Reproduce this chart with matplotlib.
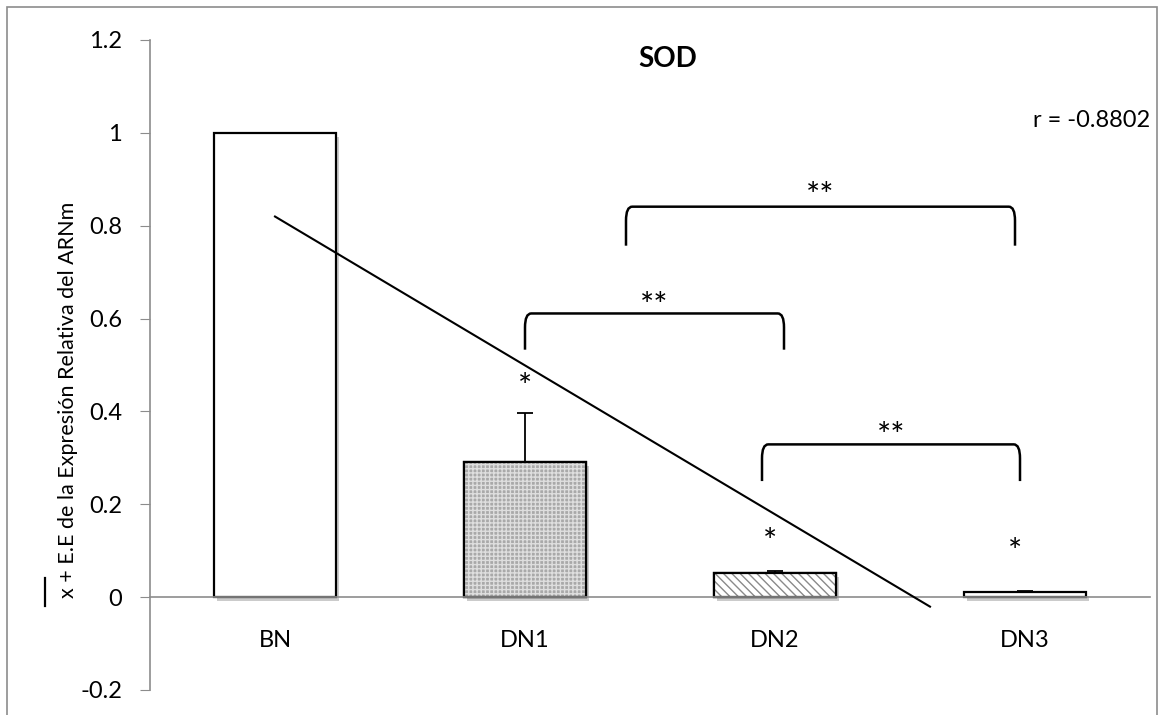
import numpy as np
import matplotlib
matplotlib.use("Agg")
import matplotlib.pyplot as plt
from matplotlib.path import Path
from matplotlib.patches import PathPatch, Rectangle
from matplotlib.lines import Line2D
import matplotlib.patheffects as pe
from matplotlib.transforms import offset_copy

# ---- data ----
categories = ["BN", "DN1", "DN2", "DN3"]
values = [1.0, 0.292, 0.052, 0.011]
errors = [0.0, 0.104, 0.005, 0.003]
y_ticks = [-0.2, 0, 0.2, 0.4, 0.6, 0.8, 1, 1.2]
y_tick_labels = ["-0.2", "0", "0.2", "0.4", "0.6", "0.8", "1", "1.2"]
r_text = "r = -0.8802"
title = "SOD"
ylabel = "x + E.E de la Expresión Relativa del ARNm"
# significance marks: (x, y, text)
single_marks = [(1.0, 0.465, "*"), (1.98, 0.131, "*"), (2.96, 0.110, "*")]
# brackets: (x_left, x_right, y_top, y_leg_bottom, label_y)
brackets = [(1.0, 2.036, 0.611, 0.533, 0.640),
            (1.948, 2.98, 0.329, 0.250, 0.360),
            (1.404, 2.96, 0.841, 0.757, 0.878)]
trend_end = 2.62

plt.rcParams['font.family'] = ['Lato', 'DejaVu Sans']
plt.rcParams['hatch.linewidth'] = 1.0

fig = plt.figure(figsize=(11.65, 7.15), dpi=100)
ax = fig.add_axes([150/1165, 1-690/715, 1000/1165, 650/715])

x = np.arange(len(categories))
w = 0.49
shadow = [pe.SimplePatchShadow(offset=(2, -3), shadow_rgbFace='#999999', alpha=0.5), pe.Normal()]

faces = ['white', '#a9a9a9', 'white', 'white']
hatches = [None, '++++', '\\\\\\\\', None]
hcolors = ['white', '#dedede', '#8a8a8a', 'white']
for i in range(len(categories)):
    ax.bar(x[i], values[i], width=w, color=faces[i], edgecolor='black', linewidth=1.6,
           zorder=2, path_effects=shadow)
    if hatches[i]:
        ax.bar(x[i], values[i], width=w, color=faces[i], edgecolor=hcolors[i],
               hatch=hatches[i], linewidth=0, zorder=2.1)
        ax.bar(x[i], values[i], width=w, fill=False, edgecolor='black', linewidth=1.6, zorder=2.2)

mask = np.array(errors) > 0
ax.errorbar(x[mask], np.array(values)[mask],
            yerr=[np.zeros(mask.sum()), np.array(errors)[mask]],
            fmt='none', ecolor='black', elinewidth=1.3, capsize=6, capthick=1.3, zorder=3)

# trend line
coef = np.polyfit(x, values, 1)
xt = np.array([0, trend_end])
ax.plot(xt, np.polyval(coef, xt), color='black', lw=1.5, zorder=4)

# asterisks placed by ink centre (baseline shifted down)
star_tr = offset_copy(ax.transData, fig=fig, x=0, y=-16, units='dots')

r_y = 0.03
r_x = 0.025
for (x1, x2, yt, yb, ly) in brackets:
    verts = [(x1, yb), (x1, yt - r_y), (x1, yt), (x1 + r_x, yt), (x2 - r_x, yt),
             (x2, yt), (x2, yt - r_y), (x2, yb)]
    codes = [Path.MOVETO, Path.LINETO, Path.CURVE3, Path.CURVE3, Path.LINETO,
             Path.CURVE3, Path.CURVE3, Path.LINETO]
    ax.add_patch(PathPatch(Path(verts, codes), fill=False, edgecolor='black', lw=1.8, zorder=4))
    ax.text((x1 + x2) / 2, ly, "**", ha='center', va='baseline', fontsize=24, transform=star_tr)

for (mx, my, t) in single_marks:
    ax.text(mx, my, t, ha='center', va='baseline', fontsize=24, transform=star_tr)

ax.set_xlim(-0.5, 3.5)
ax.set_ylim(-0.2, 1.2)
ax.set_yticks(y_ticks)
ax.set_yticklabels(y_tick_labels, fontsize=17)
ax.set_xticks([])
for i, c in enumerate(categories):
    ax.text(x[i], -0.1075, c, ha='center', va='baseline', fontsize=17)

for s in ['top', 'right']:
    ax.spines[s].set_visible(False)
ax.spines['bottom'].set_position(('data', 0))
ax.spines['bottom'].set_color('#8c8c8c')
ax.spines['left'].set_color('#8c8c8c')
ax.spines['bottom'].set_linewidth(1.2)
ax.spines['left'].set_linewidth(1.2)
ax.tick_params(axis='y', direction='out', length=7, color='#8c8c8c', pad=13)

ax.text(1.57, 1.159, title, ha='center', va='center', fontsize=20, fontweight='bold')
ax.text(3.5, 1.012, r_text, ha='right', va='baseline', fontsize=17)

ax.set_ylabel(ylabel, fontsize=15.5)
ax.yaxis.set_label_coords(-0.072, 0.446)

fig.patches.append(Rectangle((7/1165, -0.05), 1150/1165, 1.05 - 7/715, transform=fig.transFigure,
                             fill=False, edgecolor='#8c8c8c', lw=1.2))

# overline over the "x" of the y label (drawn as a separate bar, like the reference)
fig.canvas.draw()
bb = ax.yaxis.label.get_window_extent()
ox = bb.x1 - 33
oy0 = bb.y0 - 8
fig.lines.append(Line2D([ox, ox], [oy0, oy0 + 28], transform=None, color='black', lw=1.6))

fig.savefig("out.png", dpi=100)
